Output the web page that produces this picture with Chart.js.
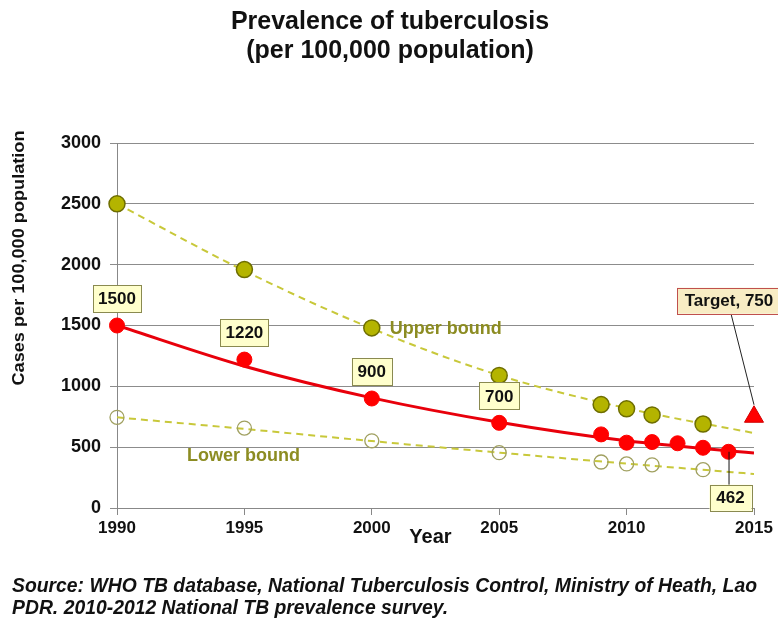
<!DOCTYPE html>
<html>
<head>
<meta charset="utf-8">
<script src="https://cdn.jsdelivr.net/npm/chart.js@4/dist/chart.umd.min.js"></script>
<style>
  html, body { margin: 0; padding: 0; background: #fff; }
  #wrap { width: 778px; height: 620px; position: relative; }
</style>
</head>
<body>
<div id="wrap"><canvas id="chart_tb" width="778" height="620"></canvas></div>
<script>
// ---- data ----
const titleLines = ['Prevalence of tuberculosis', '(per 100,000 population)'];
const yAxisTitle = 'Cases per 100,000 population';
const xAxisTitle = 'Year';
const sourceLines = [
  'Source: WHO TB database, National Tuberculosis Control, Ministry of Heath, Lao',
  'PDR. 2010-2012 National TB prevalence survey.'
];

const surveyYears = [1990, 1995, 2000, 2005, 2009, 2010, 2011, 2013];
const upperVals   = [2500, 1960, 1480, 1090, 850, 815, 765, 690];
const lowerVals   = [745, 657, 552, 455, 378, 362, 355, 315];

const midYears = [1990, 1995, 2000, 2005, 2009, 2010, 2011, 2012, 2013, 2014];
const midVals  = [1500, 1220, 900, 700, 605, 537, 542, 532, 495, 462];
const labelledYears = [1990, 1995, 2000, 2005, 2014];

const trendYears  = [1990, 1995, 2000, 2005, 2010, 2015];
const upperTrend  = [2500, 1950, 1475, 1090, 820, 616];
const midTrend    = [1500, 1165, 905, 705, 552, 452];
const lowerTrend  = [745, 650, 550, 455, 365, 280];

const targetYear = 2015;
const targetVal  = 750;

const yTicks = [0, 500, 1000, 1500, 2000, 2500, 3000];
const xTicks = [1990, 1995, 2000, 2005, 2010, 2015];

// ---- helpers ----
const pts = (xs, ys) => xs.map((x, i) => ({ x: x, y: ys[i] }));
const olive = '#b4b400', oliveDark = '#6e6e00', dashCol = '#c8c83a', boundText = '#8c8c22';
const red = '#ff0000', redDark = '#d00000';
const boxFill = '#ffffcc', boxLine = '#8a8a50';
const FONT = 'Arial, "Liberation Sans", sans-serif';

function box(ctx, cx, cy, w, h, text, fill, line) {
  ctx.fillStyle = fill;
  ctx.fillRect(cx - w / 2, cy - h / 2, w, h);
  ctx.strokeStyle = line;
  ctx.lineWidth = 1;
  ctx.strokeRect(Math.round(cx - w / 2) + 0.5, Math.round(cy - h / 2) + 0.5, w, h);
  ctx.fillStyle = '#111';
  ctx.textAlign = 'center';
  ctx.textBaseline = 'middle';
  ctx.fillText(text, cx, cy + 1);
}

// draw text squeezed/stretched to a given width
function fitText(ctx, text, x, y, width) {
  const k = width / ctx.measureText(text).width;
  ctx.save();
  ctx.translate(x, y);
  ctx.scale(k, 1);
  ctx.fillText(text, 0, 0);
  ctx.restore();
  return k;
}

const decor = {
  id: 'decor',
  afterDatasetsDraw(chart) {
    const ctx = chart.ctx, xs = chart.scales.x, ys = chart.scales.y;
    ctx.save();
    // titles
    ctx.fillStyle = '#111';
    ctx.textAlign = 'center';
    ctx.textBaseline = 'middle';
    ctx.font = 'bold 25px ' + FONT;
    ctx.fillText(titleLines[0], 390, 22);
    ctx.fillText(titleLines[1], 390, 51);

    // y axis title
    ctx.save();
    ctx.translate(20, 258);
    ctx.rotate(-Math.PI / 2);
    ctx.font = 'bold 16px ' + FONT;
    fitText(ctx, yAxisTitle, 0, 0, 255);
    ctx.restore();

    // x axis title
    ctx.font = 'bold 20px ' + FONT;
    ctx.fillText(xAxisTitle, xs.getPixelForValue(2002.3), ys.bottom + 29);

    // bound labels
    ctx.fillStyle = boundText;
    ctx.textAlign = 'left';
    ctx.font = 'bold 18px ' + FONT;
    ctx.fillText('Upper bound', xs.getPixelForValue(2000) + 18, ys.getPixelForValue(upperVals[2]) + 1);
    ctx.fillText('Lower bound', xs.getPixelForValue(1992.75), ys.getPixelForValue(430));

    // value boxes on the central estimate
    ctx.font = 'bold 17px ' + FONT;
    labelledYears.forEach(yr => {
      const v = midVals[midYears.indexOf(yr)];
      const px = xs.getPixelForValue(yr), py = ys.getPixelForValue(v);
      const w = String(v).length > 3 ? 48 : 40;
      if (yr === 2014) {
        ctx.strokeStyle = '#111';
        ctx.lineWidth = 1;
        ctx.beginPath(); ctx.moveTo(px + 0.5, py); ctx.lineTo(px + 0.5, py + 33); ctx.stroke();
        box(ctx, px + 2, py + 46, 42, 26, String(v), boxFill, boxLine);
      } else {
        box(ctx, px, py - 27, w, 27, String(v), boxFill, boxLine);
      }
    });

    // target callout
    const tx = xs.getPixelForValue(targetYear), ty = ys.getPixelForValue(targetVal);
    ctx.strokeStyle = '#222';
    ctx.lineWidth = 1;
    ctx.beginPath(); ctx.moveTo(tx - 23, ty - 103); ctx.lineTo(tx, ty - 12); ctx.stroke();
    box(ctx, tx - 25, ty - 116, 104, 26, 'Target, ' + targetVal, '#f8ecc4', '#c0504d');

    // source note
    ctx.fillStyle = '#111';
    ctx.textAlign = 'left';
    ctx.textBaseline = 'middle';
    ctx.font = 'italic bold 20px "Liberation Sans Narrow", "Arial Narrow", Arial, sans-serif';
    const k = 745 / ctx.measureText(sourceLines[0]).width;
    ctx.save();
    ctx.translate(12, 0);
    ctx.scale(k, 1);
    ctx.fillText(sourceLines[0], 0, 586);
    ctx.fillText(sourceLines[1], 0, 608);
    ctx.restore();
    ctx.restore();
  }
};

new Chart(document.getElementById('chart_tb').getContext('2d'), {
  type: 'line',
  data: {
    datasets: [
      { label: 'Target', data: [{ x: targetYear, y: targetVal }], showLine: false, pointStyle: 'triangle',
        pointRadius: 11, backgroundColor: red, borderColor: redDark, borderWidth: 1, order: 0, clip: false },
      { label: 'Estimate', data: pts(midYears, midVals), showLine: false, pointRadius: 7.5,
        backgroundColor: red, borderColor: red, borderWidth: 1, order: 1, clip: false },
      { label: 'Upper', data: pts(surveyYears, upperVals), showLine: false, pointRadius: 8,
        backgroundColor: olive, borderColor: oliveDark, borderWidth: 1.5, order: 2, clip: false },
      { label: 'Lower', data: pts(surveyYears, lowerVals), showLine: false, pointRadius: 7,
        backgroundColor: 'rgba(255,255,255,0)', borderColor: '#a0a060', borderWidth: 1.3, order: 3, clip: false },
      { label: 'Estimate trend', data: pts(trendYears, midTrend), pointRadius: 0, borderColor: '#e8000b',
        borderWidth: 3, cubicInterpolationMode: 'monotone', order: 4 },
      { label: 'Upper trend', data: pts(trendYears, upperTrend), pointRadius: 0, borderColor: dashCol,
        borderWidth: 2, borderDash: [7, 5], cubicInterpolationMode: 'monotone', order: 5 },
      { label: 'Lower trend', data: pts(trendYears, lowerTrend), pointRadius: 0, borderColor: dashCol,
        borderWidth: 2, borderDash: [7, 5], cubicInterpolationMode: 'monotone', order: 6 }
    ]
  },
  options: {
    responsive: false,
    animation: false,
    devicePixelRatio: 1,
    layout: { padding: { top: 143, right: 24, left: 0, bottom: 0 } },
    plugins: { legend: { display: false }, tooltip: { enabled: false }, title: { display: false } },
    scales: {
      x: {
        type: 'linear', min: 1990, max: 2015,
        afterBuildTicks: s => { s.ticks = xTicks.map(v => ({ value: v })); },
        afterFit: s => { s.height = 112; },
        ticks: { color: '#111', font: { family: FONT, size: 17, weight: 'bold' }, padding: 3, maxRotation: 0,
                 callback: v => String(v) },
        grid: { drawOnChartArea: false, tickLength: 7, color: '#888' },
        border: { color: '#888', width: 1 }
      },
      y: {
        min: 0, max: 3000,
        afterBuildTicks: s => { s.ticks = yTicks.map(v => ({ value: v })); },
        afterFit: s => { s.width = 117; },
        ticks: { color: '#111', font: { family: FONT, size: 18, weight: 'bold' }, padding: 9,
                 callback: v => String(v) },
        grid: { color: '#8c8c8c', tickLength: 7 },
        border: { color: '#888', width: 1 }
      }
    }
  },
  plugins: [decor]
});
</script>
</body>
</html>
